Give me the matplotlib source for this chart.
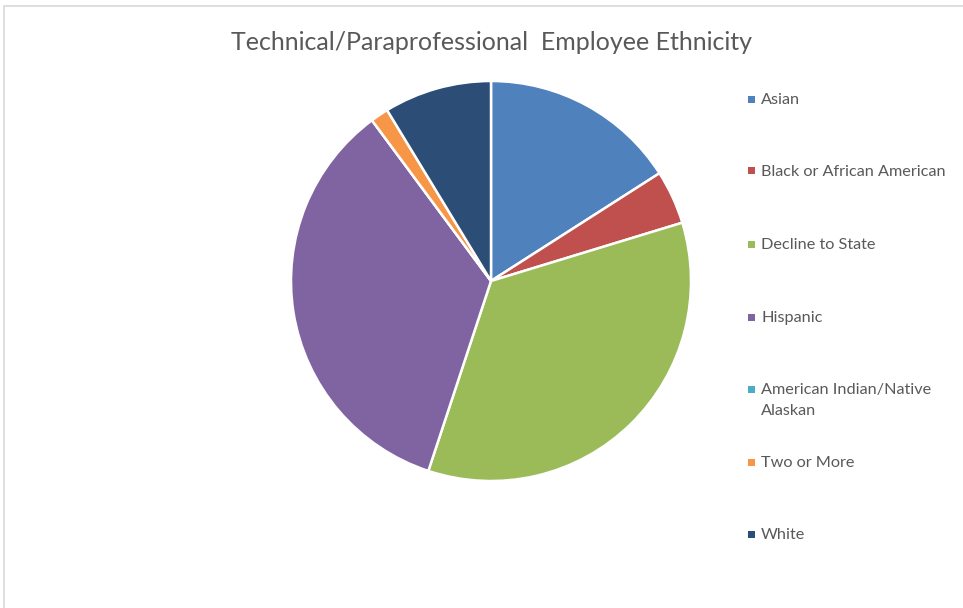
import matplotlib.pyplot as plt
from matplotlib.patches import Rectangle

plt.rcParams['font.family'] = ['Lato', 'DejaVu Sans']

groups = ['Asian', 'Black or African American', 'Decline to State', 'Hispanic',
          'American Indian/Native\nAlaskan', 'Two or More', 'White']
counts = [11, 3, 24, 24, 0, 1, 6]
colors = ['#4F81BD', '#C0504D', '#9BBB59', '#8064A2', '#4BACC6', '#F79646', '#2C4D75']

W, H = 963, 608
fig = plt.figure(figsize=(W / 100, H / 100), dpi=100)

# light chart-area border (right/bottom edges run off the image)
fig.add_artist(Rectangle((4 / W, -0.1), 1.2, (H - 6) / H + 0.1, transform=fig.transFigure,
                         fill=False, edgecolor='#D9D9D9', linewidth=1.2))

cx, cy, r = 491, 281, 200
ax = fig.add_axes([(cx - r) / W, (H - cy - r) / H, 2 * r / W, 2 * r / H])
ax.pie(counts, colors=colors, startangle=90, counterclock=False, radius=1,
       wedgeprops=dict(edgecolor='white', linewidth=1.8))
ax.set_xlim(-1, 1)
ax.set_ylim(-1, 1)
ax.set_aspect('auto')
ax.axis('off')

fig.text(cx / W, 1 - 42 / H, 'Technical/Paraprofessional  Employee Ethnicity',
         ha='center', va='center', fontsize=18, color='#595959')

# legend entries
legend_y = [99, 171, 244, 317, 389, 462, 534]
for name, col, y in zip(groups, colors, legend_y):
    fig.add_artist(Rectangle((748 / W, 1 - (y + 3.5) / H), 7 / W, 7 / H,
                             transform=fig.transFigure, color=col, linewidth=0))
    fig.text(761 / W, 1 - (y - 6) / H, name, ha='left', va='top', fontsize=11.7,
             color='#595959', linespacing=1.6)

fig.savefig('out.png', dpi=100)
